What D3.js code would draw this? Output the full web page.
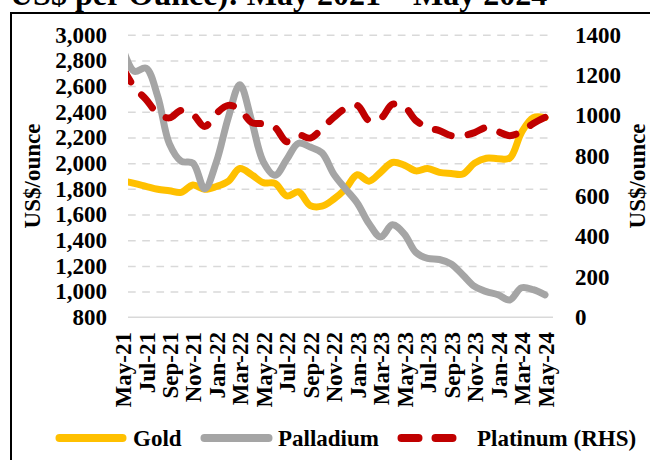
<!DOCTYPE html>
<html><head><meta charset="utf-8">
<script src="https://cdn.jsdelivr.net/npm/d3@7"></script>
<style>
body{margin:0;background:#fff;}
svg text{font-family:"Liberation Serif","Times New Roman",serif;font-weight:bold;fill:#000;}
</style></head>
<body><svg id="c" width="650" height="460"></svg>
<script>
const months = ["May-21","Jun-21","Jul-21","Aug-21","Sep-21","Oct-21","Nov-21","Dec-21",
"Jan-22","Feb-22","Mar-22","Apr-22","May-22","Jun-22","Jul-22","Aug-22","Sep-22","Oct-22","Nov-22","Dec-22",
"Jan-23","Feb-23","Mar-23","Apr-23","May-23","Jun-23","Jul-23","Aug-23","Sep-23","Oct-23","Nov-23","Dec-23",
"Jan-24","Feb-24","Mar-24","Apr-24","May-24"];
const gold = [1862,1843,1820,1797,1785,1772,1830,1797,1818,1858,1958,1910,1848,1843,1745,1776,1670,1665,1720,1800,
1910,1860,1930,2005,1985,1940,1958,1928,1920,1915,2000,2038,2035,2040,2240,2355,2355];
const palladium = [2900,2715,2740,2520,2150,2015,2000,1800,2010,2350,2610,2330,2010,1905,2030,2155,2125,2080,1915,1800,
1690,1530,1425,1520,1450,1305,1258,1250,1215,1130,1040,1000,975,935,1030,1015,975];
const platinum = [1240,1140,1080,1010,988,1025,1005,945,1010,1050,1030,965,958,940,870,903,888,935,990,1035,
1050,975,985,1055,1045,975,940,925,900,900,915,940,920,900,920,960,990];
const tickMonths = months.filter((m,i)=>i%2===0);
const leftTicks = [800,1000,1200,1400,1600,1800,2000,2200,2400,2600,2800,3000];
const rightTicks = [0,200,400,600,800,1000,1200,1400];
const titleText = "US$ per Ounce): May 2021 \u2013 May 2024";
const axisTitle = "US$/ounce";
const seriesNames = ["Gold","Palladium","Platinum (RHS)"];

const svg = d3.select("#c");
const L = 128, R = 553, T = 34.7, B = 317.3;
const x = d3.scalePoint().domain(months).range([122.5, 545]);
const yL = d3.scaleLinear().domain([800,3000]).range([B,T]);
const yR = d3.scaleLinear().domain([0,1400]).range([B,T]);

// title (cropped at top, as in the reference)
svg.append("text").attr("x",10).attr("y",5).style("font-size","32px").text(titleText);
// border
svg.append("path").attr("d","M11,462V13H652").attr("fill","none").attr("stroke","#000").attr("stroke-width",2);

// gridlines
const grid = svg.append("g").attr("transform",`translate(${L},0)`)
  .call(d3.axisRight(yL).tickValues(leftTicks.filter(d=>d>800)).tickSize(R-L).tickFormat(""));
grid.select(".domain").remove();
grid.selectAll("line").attr("stroke","#D9D9D9").attr("stroke-width",1.5).attr("stroke-dasharray","7.7,6.5");
svg.append("line").attr("x1",L).attr("x2",R).attr("y1",B).attr("y2",B).attr("stroke","#D9D9D9").attr("stroke-width",1.5);

// left axis
const ga = svg.append("g").attr("transform","translate(110,0)")
  .call(d3.axisLeft(yL).tickValues(leftTicks).tickSize(0).tickPadding(3).tickFormat(d3.format(",")));
ga.select(".domain").remove();
ga.selectAll("text").style("font-size","23px").style("font-family",null);
// right axis
const gr = svg.append("g").attr("transform","translate(572,0)")
  .call(d3.axisRight(yR).tickValues(rightTicks).tickSize(0).tickPadding(3).tickFormat(d3.format("d")));
gr.select(".domain").remove();
gr.selectAll("text").style("font-size","23px").style("font-family",null);
// x axis
const gx = svg.append("g").attr("transform",`translate(0,${B})`)
  .call(d3.axisBottom(x).tickValues(tickMonths).tickSize(0));
gx.select(".domain").remove();
gx.selectAll("text").attr("x",0).attr("y",0).attr("dy","0.35em")
  .attr("transform",`translate(0,${332-B}) rotate(-90)`).style("text-anchor","end")
  .style("font-size","23px").style("font-family",null);

// axis titles
svg.append("text").attr("transform","translate(32,176) rotate(-90)").attr("dy","0.35em")
  .style("text-anchor","middle").style("font-size","23px").text(axisTitle);
svg.append("text").attr("transform","translate(637,176) rotate(-90)").attr("dy","0.35em")
  .style("text-anchor","middle").style("font-size","23px").text(axisTitle);

// lines
svg.append("clipPath").attr("id","clip").append("rect").attr("x",L).attr("y",0).attr("width",R-L+5).attr("height",B+10);
const plot = svg.append("g").attr("clip-path","url(#clip)");
const mk = (ys, arr) => d3.line().x((d,i)=>x(months[i])).y(d=>ys(d)).curve(d3.curveCatmullRom.alpha(0.5))(arr);
const sw = 7;
plot.append("path").attr("d",mk(yL,gold)).attr("fill","none").attr("stroke","#FFC000").attr("stroke-width",sw)
  .attr("stroke-linecap","round").attr("stroke-linejoin","round");
plot.append("path").attr("d",mk(yL,palladium)).attr("fill","none").attr("stroke","#A5A5A5").attr("stroke-width",sw)
  .attr("stroke-linecap","round").attr("stroke-linejoin","round");
plot.append("path").attr("d",mk(yR,platinum)).attr("fill","none").attr("stroke","#C00000").attr("stroke-width",sw)
  .attr("stroke-linecap","round").attr("stroke-linejoin","round").attr("stroke-dasharray","17,17");

// legend
const ly = 438;
const leg = svg.append("g");
const items = [
  {name:seriesNames[0], color:"#FFC000", x1:59.5, x2:122.5, tx:133, dash:null},
  {name:seriesNames[1], color:"#A5A5A5", x1:204.5, x2:268.5, tx:278, dash:null},
  {name:seriesNames[2], color:"#C00000", x1:401.5, x2:454.5, tx:477, dash:"17,17"}
];
items.forEach(it=>{
  const l = leg.append("line").attr("x1",it.x1).attr("x2",it.x2).attr("y1",ly).attr("y2",ly)
    .attr("stroke",it.color).attr("stroke-width",sw+1).attr("stroke-linecap","round");
  if(it.dash) l.attr("stroke-dasharray",it.dash);
  leg.append("text").attr("x",it.tx).attr("y",ly).attr("dy","0.33em").style("font-size","23px").text(it.name);
});
</script></body></html>
